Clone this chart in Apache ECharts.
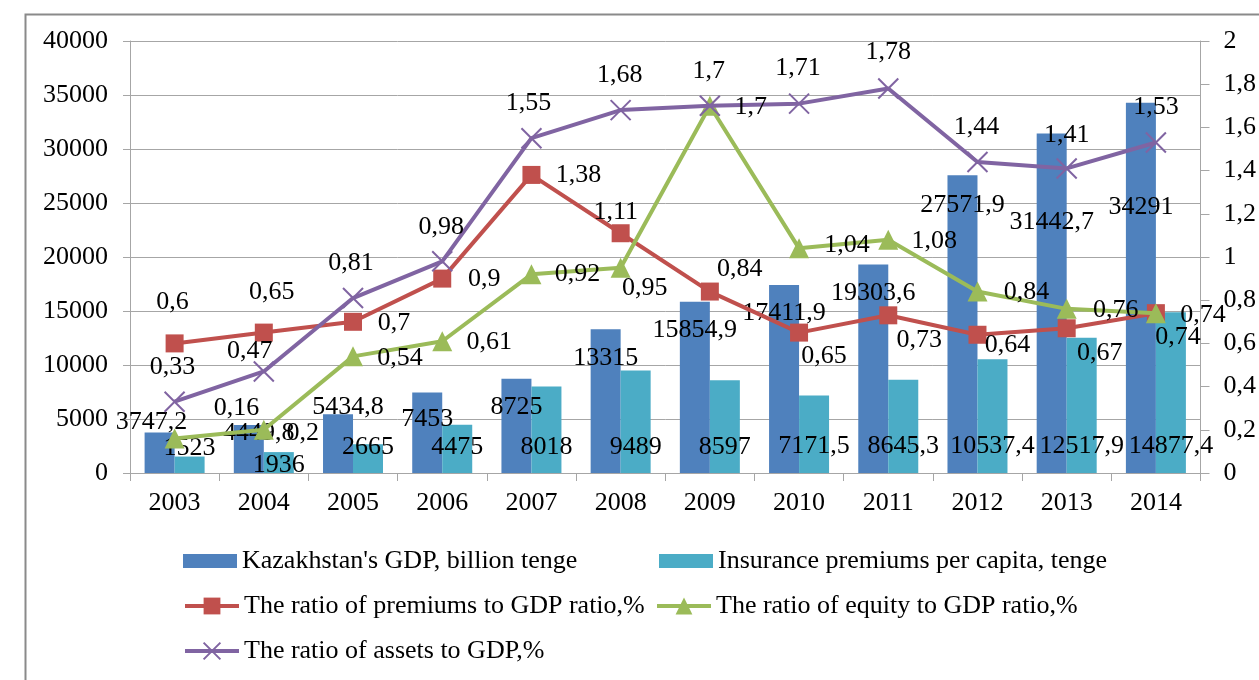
<!DOCTYPE html>
<html>
<head>
<meta charset="utf-8">
<script src="https://cdn.jsdelivr.net/npm/echarts@6/dist/echarts.min.js"></script>
<style>
  html, body { margin: 0; padding: 0; background: #fff; }
  #chart { width: 1259px; height: 680px; }
</style>
</head>
<body>
<div id="chart"></div>
<script>
const years = ["2003", "2004", "2005", "2006", "2007", "2008", "2009", "2010", "2011", "2012", "2013", "2014"];
const gdp = [3747.2, 4449.8, 5434.8, 7453, 8725, 13315, 15854.9, 17411.9, 19303.6, 27571.9, 31442.7, 34291];
const premiumsPerCapita = [1523, 1936, 2665, 4475, 8018, 9489, 8597, 7171.5, 8645.3, 10537.4, 12517.9, 14877.4];
const premiumsRatio = [0.6, 0.65, 0.7, 0.9, 1.38, 1.11, 0.84, 0.65, 0.73, 0.64, 0.67, 0.74];
const equityRatio = [0.16, 0.2, 0.54, 0.61, 0.92, 0.95, 1.7, 1.04, 1.08, 0.84, 0.76, 0.74];
const assetsRatio = [0.33, 0.47, 0.81, 0.98, 1.55, 1.68, 1.7, 1.71, 1.78, 1.44, 1.41, 1.53];

const names = [
  "Kazakhstan's GDP, billion tenge",
  "Insurance premiums per capita, tenge",
  "The ratio of premiums to GDP ratio,%",
  "The ratio of equity to GDP ratio,%",
  "The ratio of assets to GDP,%",
];

// label nudges (px) so the data labels sit where they do in the original
const gdpShift    = [[-8,-10],[10,8],[10,-7],[0,27],[0,28],[0,29],[0,28],[0,28],[0,29],[0,30],[0,89],[0,105]];
const capShift    = [[0,-25],[0,-8],[0,-26],[0,-26],[0,-26],[0,-26],[0,-26],[0,-27],[0,-27],[0,-27],[0,-27],[0,-27]];
const premShift   = [[-2,-41],[8,-40],[41,1],[42,1],[47,0],[-5,-21],[30,-22],[25,24],[31,25],[30,10],[33,25],[22,24]];
const equityShift = [[62,-30],[39,3],[47,2],[47,1],[46,0],[24,20],[-1,-35],[48,-3],[46,1],[49,1],[49,1],[47,2]];
const assetsShift = [[-2,-35],[-14,-20],[-2,-35],[-1,-34],[-3,-35],[-1,-35],[41,1],[-1,-35],[0,-36],[-1,-35],[0,-33],[0,-35]];

const FONT = "'Liberation Serif', 'Times New Roman', serif";
const GRID = "#a6a6a6";
const fmt = (v) => String(v).replace(".", ",");

const txt = { fontFamily: FONT, fontSize: 26, color: "#000" };

function barData(vals, shifts, pos) {
  return vals.map((v, i) => ({
    value: v,
    label: { position: pos, align: "center", verticalAlign: "middle", offset: shifts[i] },
  }));
}

function lineData(vals, shifts) {
  return vals.map((v, i) => ({ value: v, label: { offset: shifts[i] } }));
}

const lineLabel = {
  show: true,
  position: "inside",
  align: "center",
  verticalAlign: "middle",
  formatter: (p) => fmt(p.value),
  ...txt,
};

const barLabel = {
  show: true,
  formatter: (p) => fmt(p.value),
  ...txt,
};

const chart = echarts.init(document.getElementById("chart"), null, { renderer: "canvas" });

const legendBase = {
  orient: "horizontal",
  selectedMode: false,
  itemWidth: 54,
  textStyle: { ...txt },
  lineStyle: { width: 4 },
  padding: 0,
};

chart.setOption({
  animation: false,
  backgroundColor: "#fff",
  graphic: [{
    type: "rect",
    left: 23, top: 12,
    shape: { width: 1300, height: 720 },
    style: { fill: "none", stroke: "#8a8a8a", lineWidth: 2 },
    z: -10,
  }],
  grid: { left: 130, right: 54, top: 41, bottom: 207, containLabel: false },
  legend: [
    { ...legendBase, data: [{ name: names[0], icon: "rect" }], left: 183, top: 548, itemHeight: 14 },
    { ...legendBase, data: [{ name: names[1], icon: "rect" }], left: 659, top: 548, itemHeight: 14 },
    { ...legendBase, data: [names[2]], left: 183, top: 593, itemHeight: 21 },
    { ...legendBase, data: [names[3]], left: 655, top: 593, itemHeight: 21 },
    { ...legendBase, data: [names[4]], left: 183, top: 638, itemHeight: 21 },
  ],
  xAxis: {
    type: "category",
    data: years,
    boundaryGap: true,
    axisLine: { lineStyle: { color: GRID, width: 1 } },
    axisTick: { show: true, length: 8, lineStyle: { color: GRID } },
    axisLabel: { ...txt, margin: 17 },
  },
  yAxis: [
    {
      type: "value",
      min: 0, max: 40000, interval: 5000,
      axisLine: { show: true, lineStyle: { color: GRID } },
      axisTick: { show: true, length: 7, lineStyle: { color: GRID } },
      axisLabel: { ...txt, margin: 22, formatter: (v) => String(v) },
      splitLine: { show: true, lineStyle: { color: GRID, width: 1 } },
    },
    {
      type: "value",
      min: 0, max: 2, interval: 0.2,
      position: "right",
      axisLine: { show: true, lineStyle: { color: GRID } },
      axisTick: { show: true, length: 9, lineStyle: { color: GRID } },
      axisLabel: { ...txt, margin: 23, formatter: (v) => fmt(+v.toFixed(1)) },
      splitLine: { show: false },
    },
  ],
  series: [
    {
      name: names[0],
      type: "bar",
      barWidth: 30,
      barGap: "0%",
      itemStyle: { color: "#4f81bd" },
      label: barLabel,
      data: barData(gdp, gdpShift, ["50%", 0]),
      z: 2,
    },
    {
      name: names[1],
      type: "bar",
      barWidth: 30,
      barGap: "0%",
      itemStyle: { color: "#4bacc6" },
      label: barLabel,
      data: barData(premiumsPerCapita, capShift, ["50%", "100%"]),
      z: 2,
    },
    {
      name: names[2],
      type: "line",
      yAxisIndex: 1,
      symbol: "rect",
      symbolSize: 18,
      lineStyle: { color: "#c0504d", width: 4 },
      itemStyle: { color: "#c0504d" },
      label: lineLabel,
      data: lineData(premiumsRatio, premShift),
      z: 3,
    },
    {
      name: names[3],
      type: "line",
      yAxisIndex: 1,
      symbol: "triangle",
      symbolSize: 20,
      lineStyle: { color: "#9bbb59", width: 4 },
      itemStyle: { color: "#9bbb59" },
      label: lineLabel,
      data: lineData(equityRatio, equityShift),
      z: 4,
    },
    {
      name: names[4],
      type: "line",
      yAxisIndex: 1,
      symbol: "path://M0,0L10,10M10,0L0,10",
      symbolSize: 20,
      lineStyle: { color: "#8064a2", width: 4 },
      itemStyle: { color: "#8064a2", borderColor: "#8064a2", borderWidth: 2 },
      label: lineLabel,
      data: lineData(assetsRatio, assetsShift),
      z: 5,
    },
  ],
});

window.addEventListener("resize", () => chart.resize());
</script>
</body>
</html>
